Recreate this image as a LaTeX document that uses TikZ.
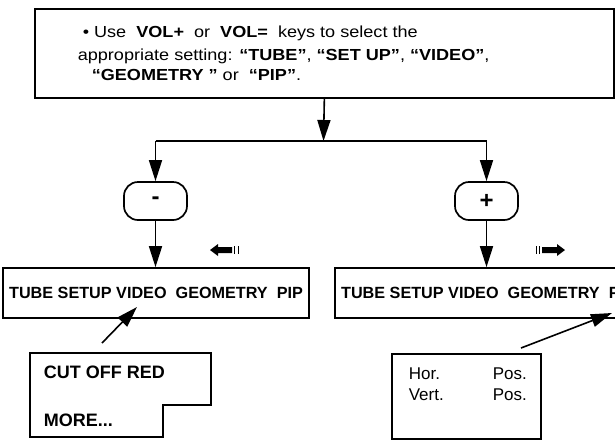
\documentclass[tikz,border=0pt]{standalone}
\usepackage{fontspec}
\setmainfont{Liberation Sans}
\newfontfamily\widefont[FakeStretch=1.13]{Liberation Sans}
\usetikzlibrary{arrows.meta}
\begin{document}
\begin{tikzpicture}[x=1pt,y=-1pt,
  line width=1.6pt,
  flow/.style={-{Triangle[length=21pt,width=13pt]}},
  box/.style={draw, line width=1.7pt, inner sep=0pt},
  pill/.style={draw, line width=1.7pt, rounded corners=14pt, minimum width=63pt, minimum height=38pt, inner sep=0pt, font=\bfseries\fontsize{24}{26}\selectfont},
  toptext/.style={anchor=base west, inner sep=0pt, font=\widefont\fontsize{16}{18}\selectfont},
  bartext/.style={font=\bfseries\fontsize{16.2}{18}\selectfont},
  menubold/.style={anchor=base west, inner sep=0pt, font=\bfseries\fontsize{18}{20}\selectfont},
  menureg/.style={anchor=base west, inner sep=0pt, font=\fontsize{17}{19}\selectfont},
]
\useasboundingbox (0,0) rectangle (615,440);
\clip (0,0) rectangle (615,440);

% top box
\node[box, minimum width=579pt, minimum height=89pt, anchor=north west] (top) at (34,8) {};
\node[toptext] (l1) at (82,37) {• Use \ \textbf{VOL+} \ or \ \textbf{VOL=} \ keys to select the};
\node[toptext] (l2) at (77,60) {appropriate setting: \textbf{“TUBE”}, \textbf{“SET UP”}, \textbf{“VIDEO”},};
\node[toptext] (l3) at (91,80) {\textbf{“GEOMETRY ”} or \ \textbf{“PIP”}.};

% split
\coordinate (split) at (323.5,141);
\coordinate (lc) at (155.5,141);
\coordinate (rc) at (486.5,141);
\draw[flow] (top.south) -- (split);
\draw (lc) -- (rc);

% pills
\node[pill] (minus) at (155.5,201) {-};
\node[pill] (plus) at (486.5,201) {+};
\draw[flow] (lc) -- (minus.north);
\draw[flow] (rc) -- (plus.north);

% menu bars
\node[box, minimum width=306pt, minimum height=50pt, bartext] (barL) at (156,293) {TUBE SETUP VIDEO\ \ GEOMETRY\ \ PIP};
\node[box, minimum width=306pt, minimum height=50pt, bartext] (barR) at (488,293) {TUBE SETUP VIDEO\ \ GEOMETRY\ \ PIP};
\draw[flow] (minus.south) -- (minus.south |- barL.north);
\draw[flow] (plus.south) -- (plus.south |- barR.north);

% small direction arrows
\fill (210,250) -- (218,244) -- (218,247) -- (232,247) -- (232,253) -- (218,253) -- (218,256) -- cycle;
\draw[line width=0.8pt] (234.5,246) -- (234.5,254) (238,246) -- (238,254);
\fill (565,250) -- (557,244) -- (557,247) -- (542,247) -- (542,253) -- (557,253) -- (557,256) -- cycle;
\draw[line width=0.8pt] (536,246) -- (536,254) (539.5,246) -- (539.5,254);

% left sub menu
\draw[line width=1.7pt] (30,353) -- (211,353) -- (211,405) -- (163,405) -- (163,437) -- (30,437) -- cycle;
\node[menubold] (cut) at (43,378) {CUT OFF RED};
\node[menubold] (more) at (43,426) {MORE...};
\coordinate (fromL) at (102,343);
\coordinate (toL) at (137,307);
\draw[flow] (fromL) -- (toL);

% right sub menu
\node[box, minimum width=149pt, minimum height=85pt, anchor=north west] (sub) at (391,353) {};
\node[menureg] (hor) at (408,379) {Hor.};
\node[menureg] (pos1) at (492,379) {Pos.};
\node[menureg] (vert) at (408,400) {Vert.};
\node[menureg] (pos2) at (492,400) {Pos.};
\coordinate (fromR) at (521,348);
\coordinate (toR) at (612,313);
\draw[flow] (fromR) -- (toR);
\end{tikzpicture}
\end{document}
